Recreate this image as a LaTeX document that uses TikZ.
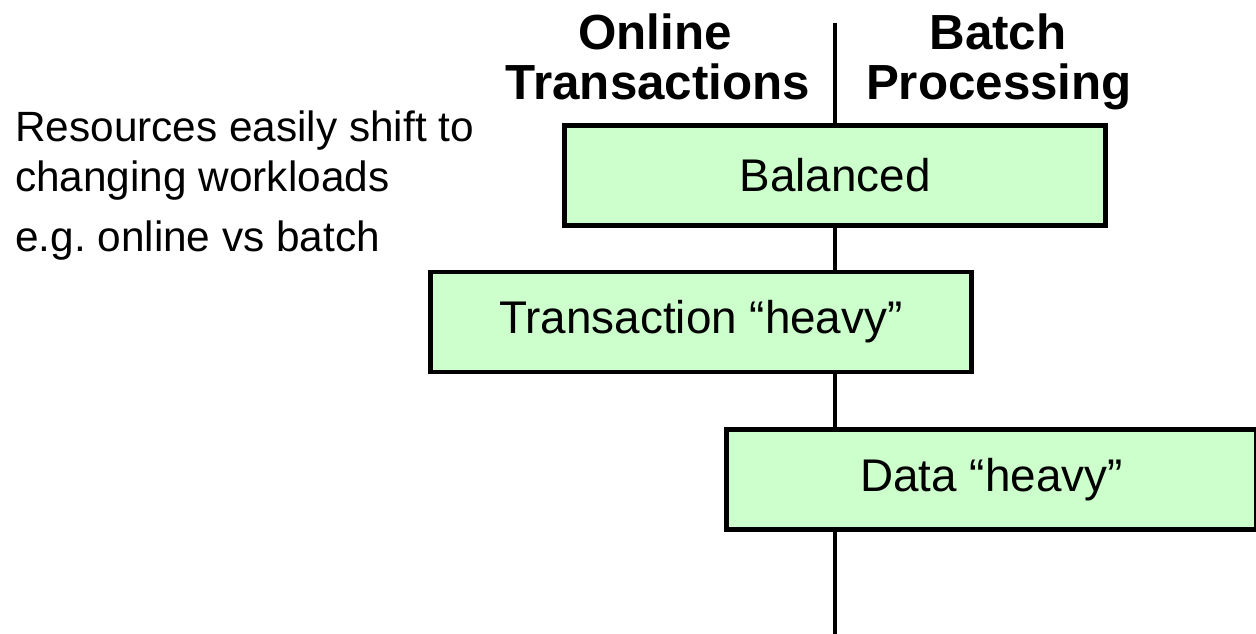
\documentclass[tikz,border=0pt]{standalone}
\usepackage{fontspec}
\setmainfont{Liberation Sans}
\usetikzlibrary{positioning}

\definecolor{boxgreen}{RGB}{204,255,204}

\tikzset{
	loadbox/.style={draw=black, line width=4.5bp, fill=boxgreen, minimum width=541bp, minimum height=100bp, inner sep=0pt, font=\fontsize{46}{50}\selectfont},
	colhead/.style={font=\fontsize{49.5}{50}\selectfont\bfseries, anchor=base, inner sep=0pt},
	note/.style={font=\fontsize{42.5}{48}\selectfont, anchor=base west, inner sep=0pt},
}

\begin{document}
\begin{tikzpicture}[x=1bp,y=-1bp]
	\useasboundingbox (0,0) rectangle (1256,634);
	% dividing line between the two workloads
	\coordinate (top) at (835,23);
	\coordinate (bot) at (835,634);
	\draw [line width=4bp] (top) -- (bot);
	% column headings
	\node[colhead] (online) at (655,50) {Online};
	\node[colhead] (trans head) at (658,100) {Transactions};
	\node[colhead] (batch) at (998,50) {Batch};
	\node[colhead] (proc head) at (999,100) {Processing};
	% workload mixes
	\node[loadbox] (bal) at (835,175.5) {Balanced};
	\node[loadbox] (trans) at (701,322) {Transaction “heavy”};
	\node[loadbox, minimum width=530bp] (data) at (991.5,479.5) {Data “heavy”};
	% side note
	\node[note] (note1) at (15,142) {Resources easily shift to};
	\node[note] (note2) at (15,192) {changing workloads};
	\node[note] (note3) at (15,252) {e.g.\ online vs batch};
\end{tikzpicture}
\end{document}
